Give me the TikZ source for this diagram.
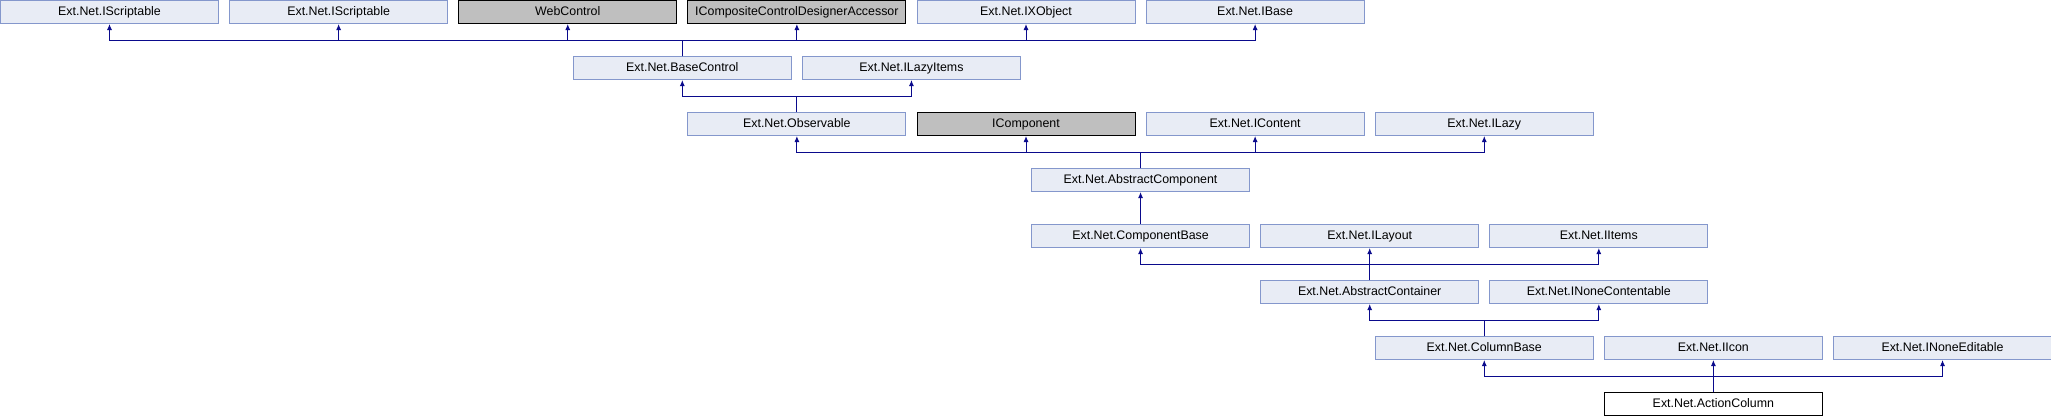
\documentclass[tikz,border=0pt]{standalone}
\usepackage{fontspec}
\setmainfont{Liberation Sans}
\usetikzlibrary{arrows.meta}

\definecolor{boxfill}{RGB}{232,236,245}
\definecolor{boxline}{RGB}{132,151,204}
\definecolor{extfill}{RGB}{191,191,191}
\definecolor{inhline}{RGB}{10,10,140}

\pgfmathsetmacro{\colw}{229.125}
\pgfmathsetmacro{\rowh}{56}

\tikzset{
    cls/.style={draw=boxline, fill=boxfill, line width=1pt, inner sep=0pt,
        anchor=north west, minimum width=218pt, minimum height=23pt,
        text height=9pt, text depth=2.6pt,
        font=\fontsize{12.4}{14}\selectfont},
    extcls/.style={cls, draw=black, fill=extfill},
    curcls/.style={cls, draw=black, fill=white},
    inh/.style={draw=inhline, line width=1pt, -{Latex[length=6pt,width=5pt]}}
}

\begin{document}
\begin{tikzpicture}[x=1pt,y=1pt]
    \useasboundingbox (0,0) rectangle (2051,-416);
    % row 1
    \node[cls]    (iscrA)  at (0*\colw,0)        {Ext.Net.IScriptable};
    \node[cls]    (iscrB)  at (1*\colw,0)        {Ext.Net.IScriptable};
    \node[extcls] (webctl) at (2*\colw,0)        {WebControl};
    \node[extcls] (iccda)  at (3*\colw,0)        {ICompositeControlDesignerAccessor};
    \node[cls]    (ixobj)  at (4*\colw,0)        {Ext.Net.IXObject};
    \node[cls]    (ibase)  at (5*\colw,0)        {Ext.Net.IBase};
    % row 2
    \node[cls]    (basectl)  at (2.5*\colw,-\rowh) {Ext.Net.BaseControl};
    \node[cls]    (ilazyit)  at (3.5*\colw,-\rowh) {Ext.Net.ILazyItems};
    % row 3
    \node[cls]    (observ)   at (3*\colw,-2*\rowh) {Ext.Net.Observable};
    \node[extcls] (icomp)    at (4*\colw,-2*\rowh) {IComponent};
    \node[cls]    (icontent) at (5*\colw,-2*\rowh) {Ext.Net.IContent};
    \node[cls]    (ilazy)    at (6*\colw,-2*\rowh) {Ext.Net.ILazy};
    % row 4 and 5
    \node[cls]    (abscomp)  at (4.5*\colw,-3*\rowh) {Ext.Net.AbstractComponent};
    \node[cls]    (compbase) at (4.5*\colw,-4*\rowh) {Ext.Net.ComponentBase};
    \node[cls]    (ilayout)  at (5.5*\colw,-4*\rowh) {Ext.Net.ILayout};
    \node[cls]    (iitems)   at (6.5*\colw,-4*\rowh) {Ext.Net.IItems};
    % row 6
    \node[cls]    (abscont)  at (5.5*\colw,-5*\rowh) {Ext.Net.AbstractContainer};
    \node[cls]    (inonecnt) at (6.5*\colw,-5*\rowh) {Ext.Net.INoneContentable};
    % row 7
    \node[cls]    (colbase)  at (6*\colw,-6*\rowh) {Ext.Net.ColumnBase};
    \node[cls]    (iicon)    at (7*\colw,-6*\rowh) {Ext.Net.IIcon};
    \node[cls]    (inoneed)  at (8*\colw,-6*\rowh) {Ext.Net.INoneEditable};
    % row 8
    \node[curcls] (actcol)   at (7*\colw,-7*\rowh) {Ext.Net.ActionColumn};

    % inheritance
    \foreach \p in {iscrA,iscrB,webctl,iccda,ixobj,ibase}
        \draw[inh] (basectl.north) -- ++(0,16) -| (\p.south);
    \foreach \p in {basectl,ilazyit}
        \draw[inh] (observ.north) -- ++(0,16) -| (\p.south);
    \foreach \p in {observ,icomp,icontent,ilazy}
        \draw[inh] (abscomp.north) -- ++(0,16) -| (\p.south);
    \draw[inh] (compbase.north) -- (abscomp.south);
    \foreach \p in {compbase,ilayout,iitems}
        \draw[inh] (abscont.north) -- ++(0,16) -| (\p.south);
    \foreach \p in {abscont,inonecnt}
        \draw[inh] (colbase.north) -- ++(0,16) -| (\p.south);
    \foreach \p in {colbase,iicon,inoneed}
        \draw[inh] (actcol.north) -- ++(0,16) -| (\p.south);
\end{tikzpicture}
\end{document}
